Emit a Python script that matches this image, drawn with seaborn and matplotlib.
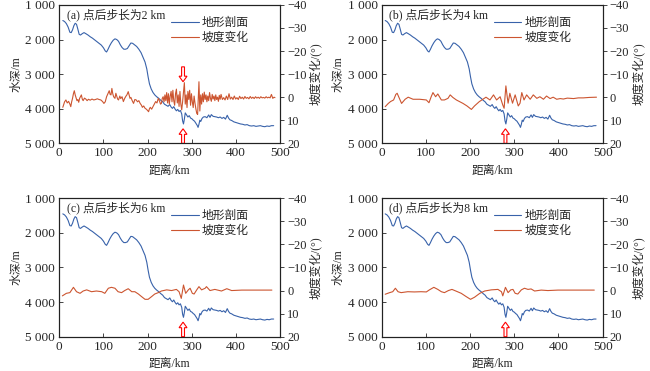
import numpy as np
import pandas as pd
import seaborn as sns
import matplotlib
matplotlib.use("Agg")
import matplotlib.pyplot as plt
from matplotlib.ticker import FuncFormatter, MultipleLocator
from matplotlib.lines import Line2D

# depth profile (same in every panel)
depth_km = [8, 12, 16, 20, 24, 27, 30, 33, 36, 39, 42, 45, 48, 52, 56, 60, 65, 70, 75, 80,
            85, 90, 95, 100, 104, 107, 110, 114, 118, 122, 126, 130, 134, 138, 142, 146, 150,
            154, 158, 162, 166, 170, 175, 180, 185, 190, 194, 198, 201, 204, 208, 212, 216,
            220, 225, 230, 234, 238, 242, 246, 250, 253, 256, 259, 262, 265, 268, 271, 274,
            277, 279, 281, 283, 285, 288, 291, 294, 297, 300, 303, 306, 309, 312, 314, 316,
            318, 320, 323, 326, 330, 334, 338, 341, 344, 348, 352, 356, 360, 364, 368, 372,
            376, 380, 383, 386, 390, 395, 400, 405, 410, 415, 420, 425, 430, 435, 440, 445,
            450, 455, 460, 465, 470, 475, 480, 485]
depth_m = [1450, 1480, 1540, 1640, 1790, 1800, 1720, 1600, 1530, 1560, 1700, 1850, 1870, 1830,
           1800, 1830, 1870, 1920, 1960, 2010, 2060, 2110, 2160, 2240, 2330, 2360, 2290, 2180,
           2090, 2020, 1980, 2000, 2050, 2150, 2230, 2280, 2280, 2260, 2180, 2100, 2110, 2150,
           2200, 2280, 2380, 2530, 2650, 2850, 3080, 3280, 3430, 3530, 3600, 3650, 3700, 3760,
           3800, 3870, 3900, 3930, 3880, 3950, 3990, 3940, 4010, 4060, 4020, 4080, 4050, 4150,
           4350, 4440, 4300, 4120, 4180, 4240, 4200, 4270, 4290, 4330, 4360, 4420, 4480, 4540,
           4450, 4330, 4370, 4280, 4240, 4230, 4260, 4180, 4250, 4170, 4220, 4230, 4240, 4260,
           4240, 4280, 4250, 4300, 4190, 4270, 4320, 4340, 4380, 4400, 4420, 4440, 4450, 4470,
           4460, 4490, 4500, 4490, 4510, 4500, 4490, 4510, 4520, 4500, 4510, 4490, 4490]

# slope change, step 2 km
slope_a_km = [8, 12, 15, 18, 21, 24, 26, 28, 30, 32, 34, 36, 38, 40, 42, 44, 46, 48, 50, 52, 54,
              57, 60, 63, 66, 70, 74, 78, 82, 86, 90, 94, 98, 101, 104, 107, 110, 113, 115, 117,
              119, 121, 123, 126, 128, 130, 132, 134, 137, 139, 142, 145, 148, 151, 153, 156,
              158, 160, 162, 165, 168, 171, 174, 177, 180, 183, 186, 188, 191, 194, 197, 200,
              202, 204, 206, 209, 212, 215, 218, 221, 224, 227, 229, 231, 233, 235, 237, 239,
              241, 243, 245, 247, 249, 251, 253, 255, 257, 259, 261, 263, 265, 267, 269, 271,
              273, 275, 277, 279, 281, 283, 285, 287, 289, 291, 293, 295, 297, 299, 301, 303,
              305, 307, 309, 311, 313, 316, 318, 320, 322, 324, 326, 328, 330, 332, 334, 336,
              338, 340, 342, 344, 346, 348, 350, 352, 354, 356, 358, 360, 362, 364, 366, 369,
              372, 375, 378, 381, 384, 387, 390, 393, 396, 399, 402, 405, 408, 411, 414, 417,
              420, 423, 426, 429, 432, 435, 438, 441, 444, 447, 450, 453, 456, 459, 462, 465,
              468, 471, 474, 477, 480, 483, 486, 488]
slope_a = [4.4, 2.0, 1.2, 2.5, 1.8, 3.0, 4.1, 2.0, 0.5, -1.5, -2.8, -1.0, 0.2, 1.5, 1.0, 2.2,
           0.5, -0.2, -1.0, 0.8, 1.5, 0.4, 0.8, 1.5, 0.9, 1.3, 0.8, 1.2, 1.0, 0.7, 1.0, 1.2, 1.9,
           2.7, 2.0, -0.2, -1.5, -2.8, -1.2, -1.0, -3.8, -1.5, -0.2, 0.5, -1.7, -0.5, 0.8, 1.2,
           -0.5, 0.6, -0.2, 1.9, 0.5, -0.5, -1.0, -2.4, -1.0, 0.5, 0.1, 1.5, 2.7, 1.0, 1.2, 2.0,
           1.5, 2.7, 3.5, 4.4, 3.8, 4.8, 5.2, 5.8, 6.3, 5.0, 4.4, 5.2, 4.1, 3.0, 1.9, 2.5, 0.5,
           1.8, 3.0, 2.7, 0.5, -0.2, 2.0, -1.0, 1.5, -2.0, 2.5, -1.5, 3.0, -0.5, -2.5, 2.0,
           -3.0, 1.5, 3.5, -1.5, -3.5, 2.5, -1.0, 4.0, -2.5, 3.0, 5.5, 2.0, -2.0, -6.3, 3.0,
           -1.0, 4.5, -2.5, 1.0, -3.0, 3.5, -1.5, 2.0, 4.5, -0.5, 2.5, 5.0, 7.0, 7.5, -6.7, 6.0,
           -1.0, 3.0, -1.5, 2.0, -2.2, 1.0, -1.0, 2.0, -0.5, 1.5, -2.0, 0.5, 1.8, -1.2, 0.8,
           -0.5, 1.5, -1.0, 1.0, 0.0, 1.8, -0.8, 0.9, -1.2, 1.0, 0.2, 1.2, -0.5, 1.0, -1.5, 0.8,
           0.0, 1.0, -0.5, 0.8, 0.2, 1.0, -0.4, 0.6, 0.0, 0.8, -0.3, 0.5, 0.1, 0.7, -0.3, 0.5,
           0.0, 0.6, -0.2, 0.4, 0.0, 0.5, -0.2, 0.3, 0.1, 0.4, -0.2, 0.3, 0.0, 0.3, -1.2, 0.5,
           0.0, 0.2]

# slope change, step 4 km
slope_b_km = [8, 15, 20, 27, 32, 35, 40, 45, 53, 60, 71, 86, 101, 107, 112, 116, 122, 127, 135,
              142, 150, 155, 161, 169, 176, 184, 193, 203, 210, 221, 229, 236, 245, 253, 260,
              268, 274, 277, 281, 284, 286, 290, 296, 302, 309, 313, 317, 322, 328, 336, 343,
              351, 358, 366, 373, 381, 388, 396, 404, 411, 420, 434, 445, 456, 470, 486]
slope_b = [4.1, 2.7, 1.9, 1.2, -1.2, -1.7, 0.5, 2.7, 0.9, 0.0, 0.9, 0.9, 1.2, 2.4, -0.2, -2.0,
           -0.2, -1.4, 1.2, 1.2, 0.5, -1.0, 0.1, 1.2, 1.9, 2.7, 3.8, 5.3, 3.8, 1.9, 0.9, 0.0,
           1.2, -1.0, 1.2, -0.2, 3.4, 4.8, -4.9, -0.2, 2.6, -1.7, 2.6, -1.0, 3.8, 2.6, -2.0, 1.2,
           -1.0, 0.9, -1.0, 0.5, -0.2, 0.9, -0.5, 0.6, 0.0, 0.9, 0.6, 0.8, 0.4, 0.6, 0.3, 0.3,
           0.1, 0.0]

# slope change, step 6 km
slope_c_km = [7, 16, 24, 32, 39, 47, 54, 62, 73, 84, 96, 103, 111, 118, 126, 133, 141, 148, 156,
              164, 171, 179, 186, 194, 201, 209, 216, 224, 231, 243, 254, 265, 271, 276, 281,
              286, 292, 296, 301, 305, 311, 316, 322, 330, 333, 341, 352, 367, 379, 390, 413,
              443, 481]
slope_c = [2.3, 1.2, 0.9, -1.4, 0.5, 1.2, 0.2, -0.3, 0.5, 0.2, 0.5, 1.2, -1.0, -1.4, -1.0, 0.5,
           0.9, 0.0, -0.8, 0.5, 0.5, 1.5, 2.6, 3.8, 3.8, 2.6, 1.5, 0.9, 0.2, -0.3, 0.0, -0.5,
           0.5, 3.4, -2.4, 1.2, -0.3, -1.0, 1.2, 1.5, -0.3, -1.7, -0.3, -1.0, -1.7, 0.0, -0.5,
           0.2, -0.8, 0.0, -0.2, -0.2, -0.2]

# slope change, step 8 km
slope_d_km = [8, 18, 25, 31, 37, 44, 59, 74, 89, 101, 108, 118, 127, 135, 142, 151, 159, 169,
              180, 191, 201, 210, 222, 233, 248, 263, 271, 274, 280, 286, 292, 297, 302, 308,
              316, 323, 331, 338, 346, 361, 376, 399, 444, 481]
slope_d = [1.6, 0.9, 0.5, -1.0, 0.5, 0.9, 0.5, 0.6, 0.5, 0.6, -0.3, -1.4, -0.5, 0.5, 0.9, 0.0,
           -0.5, 0.3, 1.2, 2.6, 3.8, 2.9, 1.2, 0.2, -0.3, -0.5, 0.5, 2.3, -1.4, 0.9, -0.3, -0.5,
           1.2, 1.5, -0.3, -1.0, -0.5, -0.7, 0.2, -0.2, 0.0, -0.2, -0.2, -0.2]

panel_titles = ["(a) 点后步长为2 km", "(b) 点后步长为4 km", "(c) 点后步长为6 km", "(d) 点后步长为8 km"]
slope_series = [(slope_a_km, slope_a), (slope_b_km, slope_b), (slope_c_km, slope_c), (slope_d_km, slope_d)]
arrow_km = 280
top_arrow = [True, False, False, False]

blue = "#3862aa"
red = "#cc5530"

sns.set_style("ticks")
plt.rcParams["font.family"] = ["Liberation Serif", "Noto Sans CJK SC", "DejaVu Sans"]
plt.rcParams["font.size"] = 8.5
plt.rcParams["axes.unicode_minus"] = True

fig = plt.figure(figsize=(6.5, 3.71), dpi=100)
positions = [(0.0912, 0.6137), (0.5872, 0.6137), (0.0912, 0.0925), (0.5872, 0.0925)]
w, h = 0.34, 0.373

depth_df = pd.DataFrame({"km": depth_km, "depth": depth_m})


def arrow(ax, y0, dy):
    ax.arrow(arrow_km, y0, 0, dy, width=6.5, head_width=18, head_length=160,
             length_includes_head=True, fc="white", ec="red", lw=0.8, clip_on=False, zorder=5)


for i in range(4):
    ax = fig.add_axes([positions[i][0], positions[i][1], w, h])
    ax2 = ax.twinx()
    sns.lineplot(data=depth_df, x="km", y="depth", ax=ax, color=blue, lw=0.8)
    sk, sv = slope_series[i]
    sns.lineplot(x=sk, y=sv, ax=ax2, color=red, lw=0.8)

    ax.set_xlim(0, 500)
    ax.set_ylim(5000, 1000)
    ax2.set_ylim(20, -40)
    ax.yaxis.set_major_locator(MultipleLocator(1000))
    ax.xaxis.set_major_locator(MultipleLocator(100))
    ax2.yaxis.set_major_locator(MultipleLocator(10))
    ax.yaxis.set_major_formatter(FuncFormatter(lambda v, p: f"{int(v):,}".replace(",", " ")))
    ax.tick_params(direction="in", length=3, width=0.6, labelsize=9.5, pad=3)
    ax2.tick_params(direction="out", length=3, width=0.6, labelsize=9, pad=2)
    for a in (ax, ax2):
        for s in a.spines.values():
            s.set_linewidth(0.8)
            s.set_color("#222222")

    ax.set_xlabel("距离/km", fontsize=8.5, labelpad=4)
    ax.set_ylabel("水深/m", fontsize=8.5, labelpad=2)
    ax2.set_ylabel("坡度变化/(°)", fontsize=8.5, labelpad=2, rotation=90)

    ax.text(0.035, 0.975, panel_titles[i], transform=ax.transAxes, ha="left", va="top", fontsize=8.5)

    handles = [Line2D([], [], color=blue, lw=0.8), Line2D([], [], color=red, lw=0.8)]
    ax2.legend(handles, ["地形剖面", "坡度变化"], loc="upper left", bbox_to_anchor=(0.47, 0.975),
               frameon=False, fontsize=8.5, handlelength=2.3, handletextpad=0.3,
               labelspacing=0.27, borderpad=0.2)

    arrow(ax, 5000, -420)
    if top_arrow[i]:
        arrow(ax, 2790, 430)

fig.savefig("out.png", dpi=100)
